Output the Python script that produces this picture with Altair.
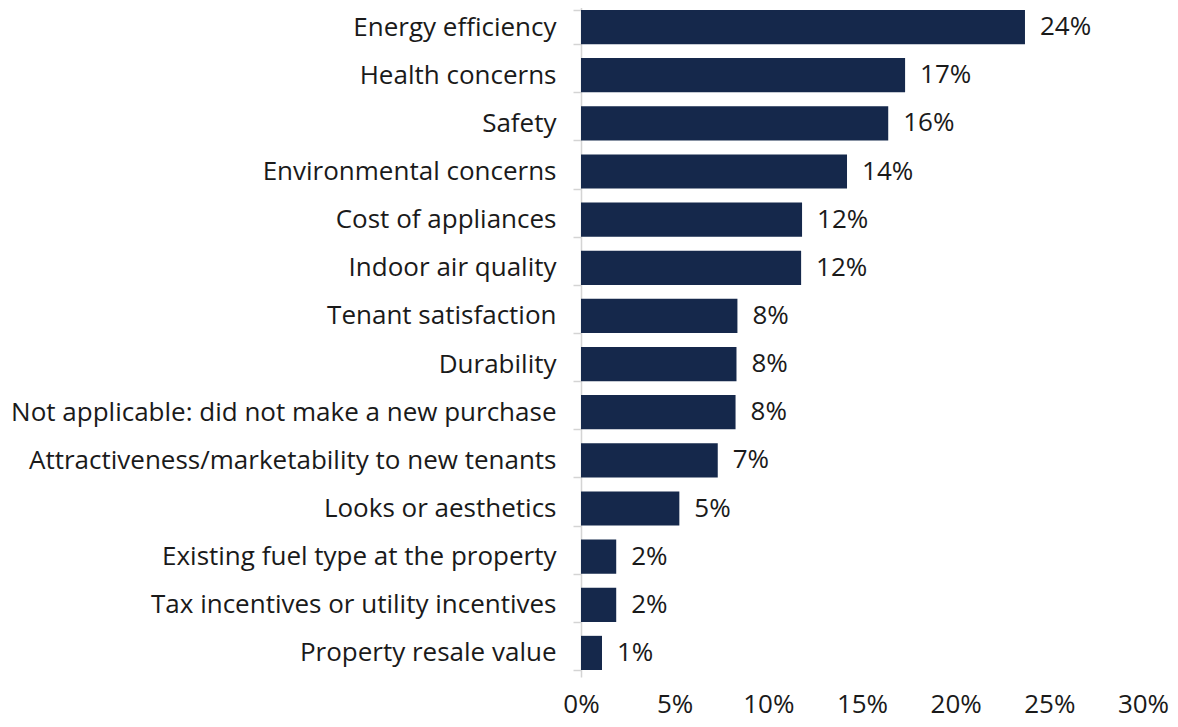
import altair as alt
import pandas as pd

categories = [
    "Energy efficiency",
    "Health concerns",
    "Safety",
    "Environmental concerns ",
    "Cost of appliances",
    "Indoor air quality",
    "Tenant satisfaction",
    "Durability",
    "Not applicable: did not make a new purchase",
    "Attractiveness/marketability to new tenants",
    "Looks or aesthetics",
    "Existing fuel type at the property",
    "Tax incentives or utility incentives",
    "Property resale value",
]
values = [0.237, 0.173, 0.164, 0.142, 0.118, 0.1175, 0.0835, 0.083, 0.0825, 0.073, 0.0525, 0.0188, 0.0188, 0.0112]
x_ticks = [0, 0.05, 0.10, 0.15, 0.20, 0.25, 0.30]

df = pd.DataFrame({"category": categories, "value": values})

FONT = "Open Sans"
FS = 26
BAR = "#15284b"
TEXT = "#1a1a1a"
LINE = "#d4d4d4"

y_enc = alt.Y("category:N", sort=categories, title=None,
              scale=alt.Scale(paddingInner=0.29, paddingOuter=0.145),
              axis=alt.Axis(labelFont=FONT, labelFontSize=FS, labelColor=TEXT,
                            labelPadding=17, tickSize=8, tickColor=LINE,
                            domainColor=LINE, domainWidth=1.5, tickWidth=1.5,
                            tickBand="extent", labelLimit=700))
x_enc = alt.X("value:Q", title=None,
              scale=alt.Scale(domain=[0, 0.30], nice=False),
              axis=alt.Axis(values=x_ticks, format=".0%", labelFont=FONT, labelFontSize=FS,
                            labelColor=TEXT, domain=False, ticks=False,
                            grid=False, labelPadding=14, labelFlush=False))

bars = alt.Chart(df).mark_bar(color=BAR).encode(y=y_enc, x=x_enc)
labels = alt.Chart(df).mark_text(align="left", baseline="middle", dx=15,
                                 font=FONT, fontSize=FS, color=TEXT).encode(
    y=alt.Y("category:N", sort=categories),
    x="value:Q",
    text=alt.Text("value:Q", format=".0%"),
)

chart = (bars + labels).properties(
    width=562, height=674,
    background="white",
    autosize=alt.AutoSizeParams(type="none"),
    padding={"left": 573, "top": -5, "right": 26, "bottom": 42},
).configure_view(stroke=None)

chart.save("out.html", embed_options={"renderer": "svg", "actions": False})
